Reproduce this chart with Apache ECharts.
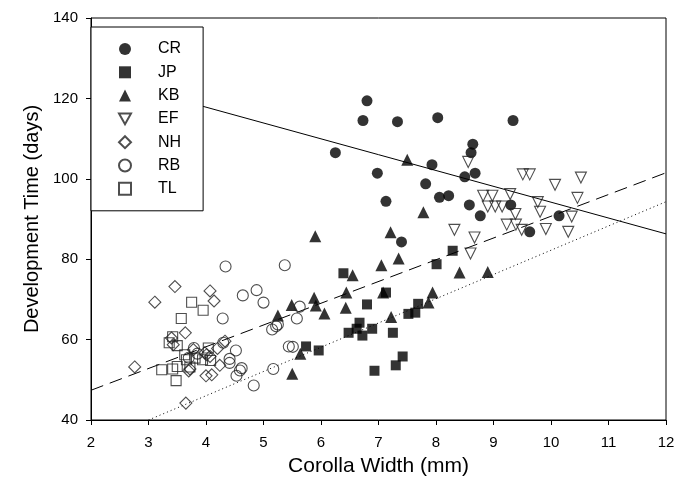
<!DOCTYPE html>
<html>
<head>
<meta charset="utf-8">
<script src="https://cdn.jsdelivr.net/npm/echarts@6/dist/echarts.min.js"></script>
<style>
  html, body { margin: 0; padding: 0; background: #fff; }
  #main { width: 689px; height: 489px; }
</style>
</head>
<body>
<div id="main"></div>
<script>
// site groups, in legend order
const groups = ['CR', 'JP', 'KB', 'EF', 'NH', 'RB', 'TL']

// [corolla width (mm), development time (days)]
const crData = [
  [6.80, 119.4], [6.73, 114.5], [7.33, 114.2], [8.03, 115.2], [9.34, 114.5],
  [6.25, 106.5], [8.64, 108.6], [8.61, 106.5], [6.98, 101.4], [7.93, 103.5],
  [7.82, 98.75], [8.50, 100.5], [8.68, 101.4], [8.06, 95.4], [8.22, 95.8],
  [7.13, 94.4], [8.58, 93.5], [8.77, 90.8], [7.40, 84.3], [9.30, 93.5],
  [9.63, 86.8], [10.14, 90.8]
]
const jpData = [
  [8.29, 82.1], [8.01, 78.75], [6.39, 76.5], [7.13, 71.7], [6.80, 68.75],
  [7.69, 68.9], [7.52, 66.4], [7.64, 66.7], [6.67, 64.2], [6.62, 62.7],
  [6.48, 61.7], [6.72, 61.0], [6.89, 62.7], [7.25, 61.7], [5.74, 58.3],
  [5.96, 57.3], [7.42, 55.8], [7.30, 53.6], [6.93, 52.25]
]
const kbData = [
  [7.50, 104.75], [7.78, 91.7], [5.90, 85.7], [7.21, 86.7], [7.35, 80.2],
  [7.05, 78.5], [6.55, 76.0], [6.44, 71.7], [7.08, 71.7], [5.88, 70.4],
  [5.49, 68.6], [5.91, 68.5], [6.06, 66.5], [6.43, 67.9], [7.94, 71.7],
  [7.87, 69.2], [7.22, 65.6], [8.41, 76.7], [8.90, 76.8], [5.64, 56.5],
  [5.50, 51.5], [5.25, 66.0]
]
const efData = [
  [8.56, 104.2], [8.82, 95.8], [8.98, 95.8], [8.90, 93.1], [9.03, 93.1],
  [9.15, 93.1], [8.32, 87.3], [8.67, 85.4], [8.60, 81.4], [9.51, 101.1],
  [9.63, 101.1], [10.07, 98.5], [10.52, 100.3], [9.29, 96.2], [9.38, 91.25],
  [9.77, 94.2], [9.81, 91.8], [10.46, 95.25], [10.36, 90.6], [9.23, 88.6],
  [9.39, 88.6], [9.49, 87.3], [9.91, 87.5], [10.30, 86.8]
]
const nhData = [
  [3.46, 73.2], [3.11, 69.3], [4.07, 72.1], [4.14, 69.6], [3.64, 61.7],
  [3.40, 60.4], [3.43, 58.75], [4.33, 59.6], [4.20, 57.8], [2.76, 53.2],
  [3.72, 52.7], [3.70, 52.2], [4.01, 56.25], [3.98, 56.7], [4.07, 55.8],
  [4.24, 53.6], [4.00, 51.0], [4.10, 51.25], [3.65, 44.2], [3.78, 57.5]
]
const rbData = [
  [4.34, 78.2], [5.37, 78.5], [4.64, 71.0], [4.88, 72.3], [5.00, 69.2],
  [5.63, 68.2], [5.58, 65.25], [4.29, 65.25], [5.15, 62.5], [5.22, 63.3],
  [5.25, 63.75], [5.44, 58.3], [5.51, 58.2], [3.79, 57.9], [4.52, 57.3],
  [4.41, 55.2], [4.41, 54.2], [4.62, 52.9], [4.59, 52.3], [4.53, 51.0],
  [4.83, 48.6], [5.17, 52.7], [4.30, 59.2], [3.70, 55.5], [3.85, 56.5]
]
const tlData = [
  [3.75, 69.3], [3.95, 67.3], [3.57, 65.25], [3.42, 60.7], [3.36, 59.2],
  [3.50, 58.5], [3.63, 56.25], [3.66, 55.0], [4.04, 57.9], [3.94, 55.0],
  [4.08, 54.8], [3.23, 52.5], [3.42, 52.7], [3.50, 53.3], [3.48, 49.8],
  [3.72, 53.2], [3.81, 55.4]
]

// fitted lines (end points)
const solidFit = [[2, 125.7], [12, 86.3]]
const dashedFit = [[2, 47.4], [12, 101.5]]
const dottedFit = [[3, 40], [12, 94.3]]

const xTicks = { min: 2, max: 12, step: 1 }
const yTicks = { min: 40, max: 140, step: 20 }

const FONT = '"Liberation Sans", Arial, Helvetica, sans-serif'
const downTri = 'path://M0,0 L10,0 L5,9 Z'

const filled = { color: '#000' }
const open = { color: 'rgba(255,255,255,0)', borderColor: '#222', borderWidth: 1.1 }

function scatter (name, data, symbol, size, style) {
  return {
    name: name,
    type: 'scatter',
    data: data,
    symbol: symbol,
    symbolSize: size,
    itemStyle: style,
    z: 3
  }
}

function fitLine (data, type) {
  return {
    type: 'line',
    data: data,
    symbol: 'none',
    silent: true,
    lineStyle: { color: '#000', width: 1, type: type },
    z: 2
  }
}

let chart = echarts.init(document.getElementById('main'), null, { renderer: 'canvas' })

chart.setOption({
  animation: false,
  backgroundColor: '#fff',
  grid: {
    left: 91,
    right: 23,
    top: 18,
    bottom: 69,
    show: true,
    borderColor: '#000',
    borderWidth: 1,
    backgroundColor: 'transparent'
  },
  legend: {
    data: groups,
    orient: 'vertical',
    left: 91,
    top: 27,
    padding: [14, 22, 14, 27],
    itemWidth: 12,
    itemHeight: 12,
    itemGap: 7.3,
    backgroundColor: '#fff',
    borderColor: '#000',
    borderWidth: 1,
    textStyle: {
      color: '#000',
      fontFamily: FONT,
      fontSize: 16,
      lineHeight: 16,
      padding: [0, 0, 0, 22]
    }
  },
  xAxis: {
    type: 'value',
    min: xTicks.min,
    max: xTicks.max,
    interval: xTicks.step,
    name: 'Corolla Width (mm)',
    nameLocation: 'middle',
    nameGap: 36,
    nameTextStyle: { color: '#000', fontFamily: FONT, fontSize: 21 },
    axisLine: { onZero: false, lineStyle: { color: '#000' } },
    axisTick: { inside: false, length: 5, lineStyle: { color: '#000' } },
    axisLabel: { color: '#000', fontFamily: FONT, fontSize: 15, margin: 15 },
    splitLine: { show: false }
  },
  yAxis: {
    type: 'value',
    min: yTicks.min,
    max: yTicks.max,
    interval: yTicks.step,
    name: 'Development Time (days)',
    nameLocation: 'middle',
    nameGap: 44,
    nameTextStyle: { color: '#000', fontFamily: FONT, fontSize: 20 },
    axisLine: { onZero: false, lineStyle: { color: '#000' } },
    axisTick: { inside: false, length: 5, lineStyle: { color: '#000' } },
    axisLabel: { color: '#000', fontFamily: FONT, fontSize: 15, margin: 13 },
    splitLine: { show: false }
  },
  series: [
    fitLine(solidFit, 'solid'),
    fitLine(dashedFit, [13, 7]),
    fitLine(dottedFit, [1, 3]),
    scatter('CR', crData, 'circle', 11, filled),
    scatter('JP', jpData, 'rect', 10, filled),
    scatter('KB', kbData, 'triangle', 12, filled),
    scatter('EF', efData, downTri, 11, open),
    scatter('NH', nhData, 'diamond', 12, open),
    scatter('RB', rbData, 'circle', 11, open),
    scatter('TL', tlData, 'rect', 10, open)
  ]
})
</script>
</body>
</html>
